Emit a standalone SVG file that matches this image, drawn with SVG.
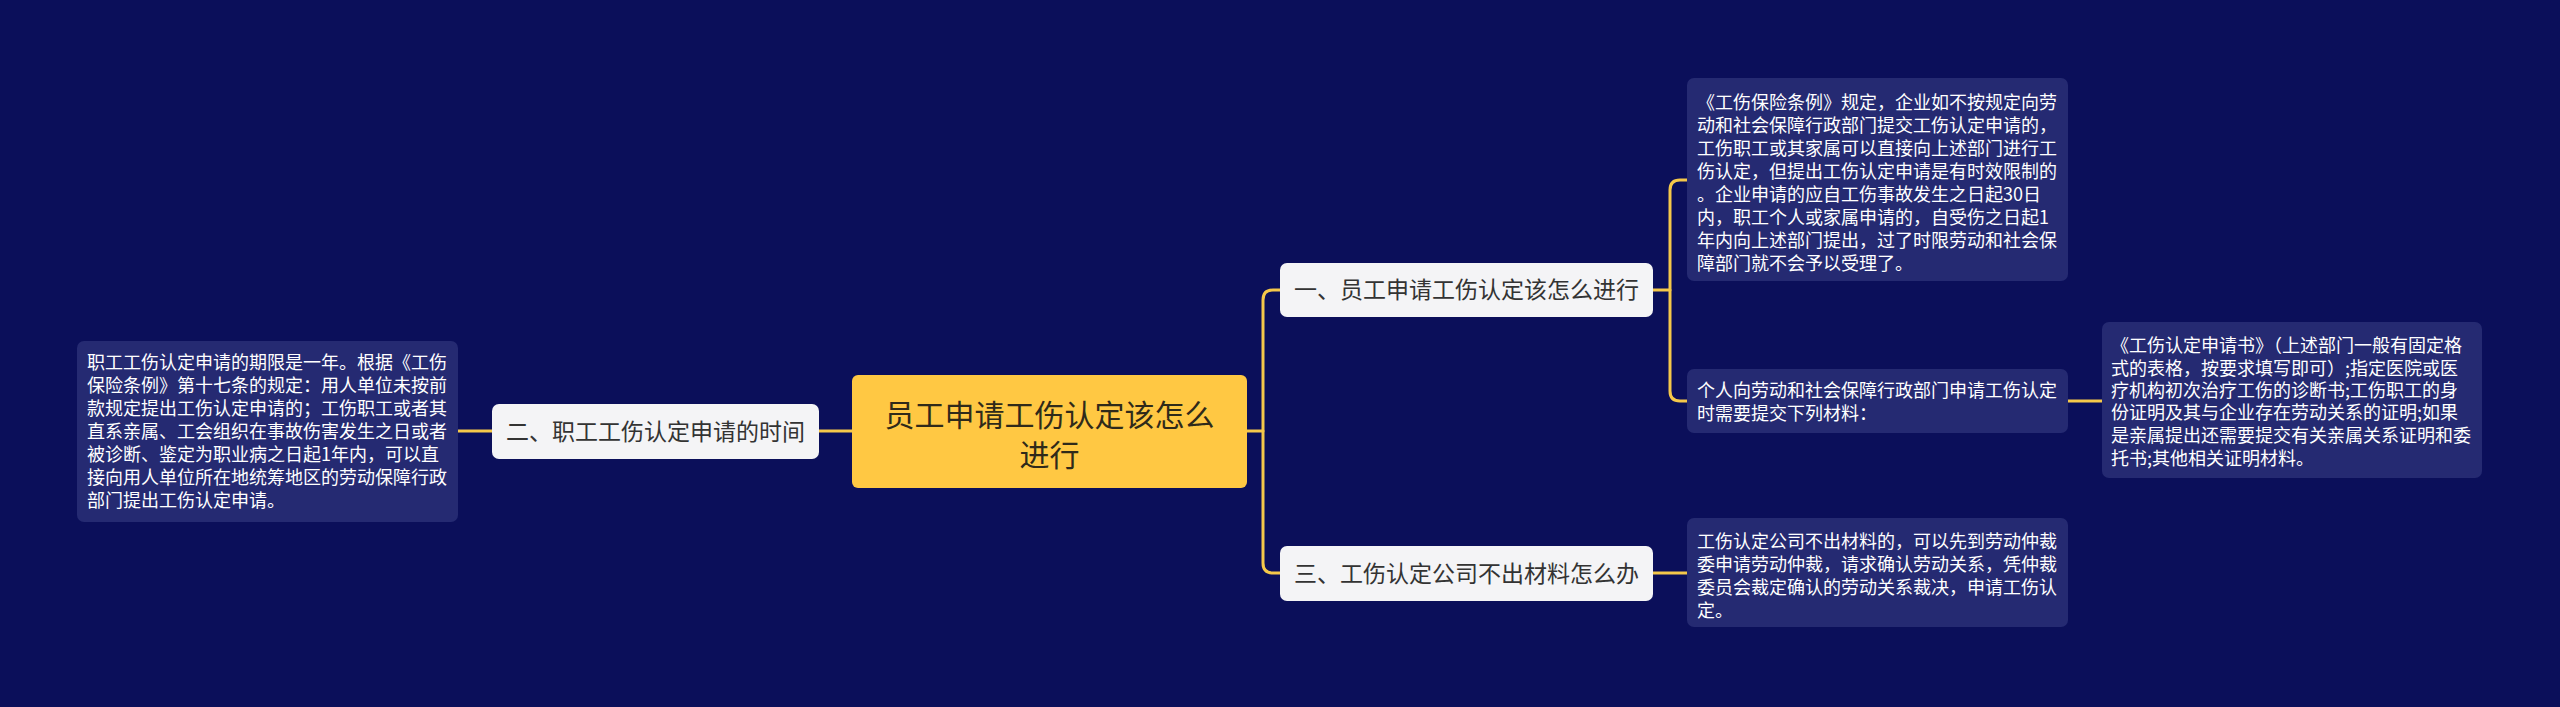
<svg xmlns="http://www.w3.org/2000/svg" width="2560" height="707" viewBox="0 0 2560 707">
<style>
.bg{fill:#0b0f5a}
.conn{fill:none;stroke:#f5c84a;stroke-width:3;stroke-linecap:round}
.root{fill:#ffc843}
.rootText{font-family:"Noto Sans CJK SC","Noto Sans",sans-serif;font-size:30px;fill:#2f2a1a;text-anchor:middle}
.branch{fill:#f4f4f6}
.branchText{font-family:"Noto Sans CJK SC","Noto Sans",sans-serif;font-size:23px;fill:#333333;text-anchor:middle}
.leaf{fill:#252a72}
.leafText{font-family:"Noto Sans CJK SC","Noto Sans",sans-serif;font-size:18px;fill:#ffffff}
</style>
<rect class="bg" x="0" y="0" width="2560" height="707"/>
<g id="connectors">
<path class="conn" d="M852,431 H819"/>
<path class="conn" d="M492,431 H458"/>
<path class="conn" d="M1246,431 H1263"/>
<path class="conn" d="M1280,290 H1273 Q1263,290 1263,300 V563 Q1263,573 1273,573 H1280"/>
<path class="conn" d="M1653,290 H1670"/>
<path class="conn" d="M1687,180 H1680 Q1670,180 1670,190 V391 Q1670,401 1680,401 H1687"/>
<path class="conn" d="M1653,573 H1687"/>
<path class="conn" d="M2068,401 H2102"/>
</g>
<g id="root">
<rect class="root" x="852" y="375" width="395" height="113" rx="6"/>
<text class="rootText" x="1049.5"><tspan x="1049.5" y="426">员工申请工伤认定该怎么</tspan><tspan x="1049.5" y="466">进行</tspan></text>
</g>
<g id="node1">
<rect class="branch" x="1280" y="263" width="373" height="54" rx="7"/>
<text class="branchText" x="1466.5" y="298">一、员工申请工伤认定该怎么进行</text>
</g>
<g id="node2">
<rect class="branch" x="492" y="404" width="327" height="55" rx="7"/>
<text class="branchText" x="655.5" y="439.5">二、职工工伤认定申请的时间</text>
</g>
<g id="node3">
<rect class="branch" x="1280" y="546" width="373" height="55" rx="7"/>
<text class="branchText" x="1466.5" y="581.5">三、工伤认定公司不出材料怎么办</text>
</g>
<g id="leaf1">
<rect class="leaf" x="1687" y="78" width="381" height="203" rx="7"/>
<text class="leafText"><tspan x="1697" y="108.5">《工伤保险条例》规定，企业如不按规定向劳</tspan><tspan x="1697" y="131.5">动和社会保障行政部门提交工伤认定申请的，</tspan><tspan x="1697" y="154.5">工伤职工或其家属可以直接向上述部门进行工</tspan><tspan x="1697" y="177.5">伤认定，但提出工伤认定申请是有时效限制的</tspan><tspan x="1697" y="200.5">。企业申请的应自工伤事故发生之日起30日</tspan><tspan x="1697" y="223.5">内，职工个人或家属申请的，自受伤之日起1</tspan><tspan x="1697" y="246.5">年内向上述部门提出，过了时限劳动和社会保</tspan><tspan x="1697" y="269.5">障部门就不会予以受理了。</tspan></text>
</g>
<g id="leaf2">
<rect class="leaf" x="1687" y="369" width="381" height="64" rx="7"/>
<text class="leafText"><tspan x="1697" y="396.5">个人向劳动和社会保障行政部门申请工伤认定</tspan><tspan x="1697" y="419.5">时需要提交下列材料：</tspan></text>
</g>
<g id="leaf3">
<rect class="leaf" x="1687" y="518" width="381" height="109" rx="7"/>
<text class="leafText"><tspan x="1697" y="548">工伤认定公司不出材料的，可以先到劳动仲裁</tspan><tspan x="1697" y="571">委申请劳动仲裁，请求确认劳动关系，凭仲裁</tspan><tspan x="1697" y="594">委员会裁定确认的劳动关系裁决，申请工伤认</tspan><tspan x="1697" y="617">定。</tspan></text>
</g>
<g id="leaf4">
<rect class="leaf" x="2102" y="322" width="380" height="156" rx="7"/>
<text class="leafText"><tspan x="2111" y="351.5">《工伤认定申请书》（上述部门一般有固定格</tspan><tspan x="2111" y="374.5">式的表格，按要求填写即可）;指定医院或医</tspan><tspan x="2111" y="397">疗机构初次治疗工伤的诊断书;工伤职工的身</tspan><tspan x="2111" y="419">份证明及其与企业存在劳动关系的证明;如果</tspan><tspan x="2111" y="441.5">是亲属提出还需要提交有关亲属关系证明和委</tspan><tspan x="2111" y="464.5">托书;其他相关证明材料。</tspan></text>
</g>
<g id="leaf5">
<rect class="leaf" x="77" y="341" width="381" height="181" rx="7"/>
<text class="leafText"><tspan x="87" y="369">职工工伤认定申请的期限是一年。根据《工伤</tspan><tspan x="87" y="392">保险条例》第十七条的规定：用人单位未按前</tspan><tspan x="87" y="415">款规定提出工伤认定申请的；工伤职工或者其</tspan><tspan x="87" y="438">直系亲属、工会组织在事故伤害发生之日或者</tspan><tspan x="87" y="461">被诊断、鉴定为职业病之日起1年内，可以直</tspan><tspan x="87" y="484">接向用人单位所在地统筹地区的劳动保障行政</tspan><tspan x="87" y="507">部门提出工伤认定申请。</tspan></text>
</g>
</svg>
